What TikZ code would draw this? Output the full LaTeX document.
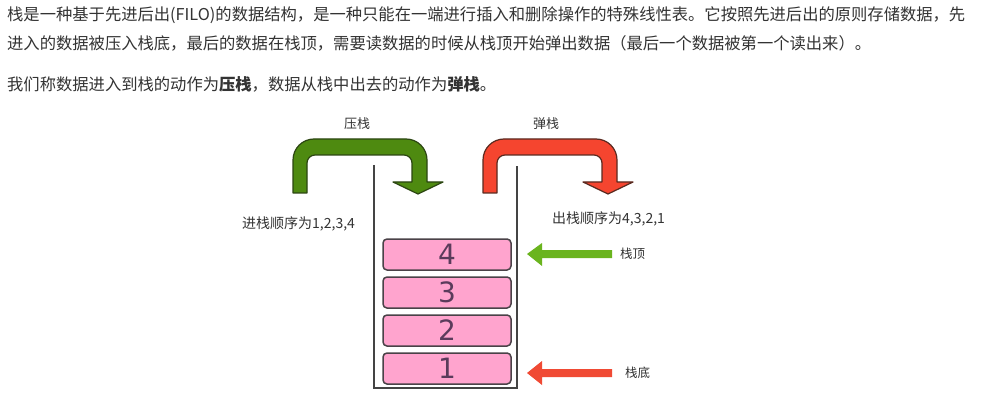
\documentclass[tikz,border=0pt]{standalone}
\usepackage{fontspec}
\setmainfont{Noto Sans CJK SC}
\newfontfamily\numfont{DejaVu Sans}
\definecolor{txt}{HTML}{333333}
\definecolor{bigg}{HTML}{4E8A10}
\definecolor{biggd}{HTML}{2C4612}
\definecolor{bigr}{HTML}{F5452F}
\definecolor{bigrd}{HTML}{5A2A20}
\definecolor{smg}{HTML}{6AB41E}
\definecolor{smr}{HTML}{F04A34}
\definecolor{boxpink}{HTML}{FFA4CE}
\definecolor{boxline}{HTML}{4A4248}
\definecolor{numc}{HTML}{5B3B5B}
\definecolor{wall}{HTML}{444444}
\tikzset{
  para/.style={anchor=west, inner sep=0pt, text=txt, font=\fontsize{16.3}{18}\selectfont},
  lbl/.style={inner sep=0pt, text=txt, font=\fontsize{13}{15}\selectfont},
  ordlbl/.style={lbl, anchor=west, font=\fontsize{14}{16}\selectfont},
  stackbox/.style={draw=boxline, line width=1.5pt, fill=boxpink, rounded corners=4pt,
    minimum width=128pt, minimum height=31pt, inner sep=0pt, text=numc,
    font=\numfont\fontsize{28}{30}\selectfont},
  uarrow/.style={line width=1.2pt, line join=round}
}
\newcommand{\uarrowpath}{(293,193) -- (293,160) .. controls (293,148.4) and (302.4,139) .. (314,139)
  -- (406,139) .. controls (417.6,139) and (427,148.4) .. (427,160) -- (427,182) -- (443,182)
  -- (418,194) -- (393,182) -- (412,182) -- (412,163) .. controls (412,158.6) and (408.4,155) .. (404,155)
  -- (315,155) .. controls (310.6,155) and (307,158.6) .. (307,163) -- (307,193) -- cycle}
\begin{document}
\begin{tikzpicture}[x=1pt,y=-1pt]
\useasboundingbox (0,0) rectangle (987,414);
\fill[white] (0,0) rectangle (987,414);
% paragraph text
\node[para] (l1) at (7,15) {栈是一种基于先进后出(FILO)的数据结构，是一种只能在一端进行插入和删除操作的特殊线性表。它按照先进后出的原则存储数据，先};
\node[para] (l2) at (7,43) {进入的数据被压入栈底，最后的数据在栈顶，需要读数据的时候从栈顶开始弹出数据（最后一个数据被第一个读出来）。};
\node[para] (l3) at (7,84) {我们称数据进入到栈的动作为\textbf{压栈}，数据从栈中出去的动作为\textbf{弹栈}。};
% U arrows
\filldraw[uarrow, fill=bigg, draw=biggd] \uarrowpath;
\begin{scope}[xshift=190pt]
\filldraw[uarrow, fill=bigr, draw=bigrd] \uarrowpath;
\end{scope}
\node[lbl] (push) at (357,124) {压栈};
\node[lbl] (pop) at (546,124) {弹栈};
\node[ordlbl] (inord) at (242,224) {进栈顺序为1,2,3,4};
\node[ordlbl] (outord) at (552,219) {出栈顺序为4,3,2,1};
% stack walls
\draw[wall, line width=1.6pt] (374,165) -- (374,388) -- (517,388) -- (517,166);
% boxes
\node[stackbox] (b4) at (447,254.5) {4};
\node[stackbox] (b3) at (447,292.5) {3};
\node[stackbox] (b2) at (447,330.5) {2};
\node[stackbox] (b1) at (447,368.5) {1};
% side arrows
\fill[smg] (527,254) -- (542,243) -- (542,250) -- (612,250) -- (612,258) -- (542,258) -- (542,266) -- cycle;
\fill[smr] (527,373) -- (542,361) -- (542,369) -- (612,369) -- (612,377) -- (542,377) -- (542,385) -- cycle;
\node[lbl, anchor=west, font=\fontsize{12.5}{14}\selectfont] (top) at (620,254) {栈顶};
\node[lbl, anchor=west, font=\fontsize{12.5}{14}\selectfont] (bot) at (625,373) {栈底};
\end{tikzpicture}
\end{document}
